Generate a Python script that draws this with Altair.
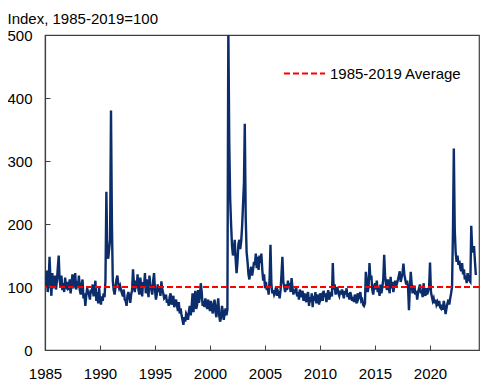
import altair as alt
import pandas as pd

years = list(range(1985, 2025))

gpr_by_year = {
    1985: [118, 100, 126, 92, 108, 148, 112, 86, 122, 98, 104, 118],
    1986: [96, 110, 130, 150, 112, 100, 118, 95, 106, 92, 115, 100],
    1987: [98, 108, 95, 112, 90, 104, 120, 98, 110, 122, 96, 104],
    1988: [100, 118, 95, 88, 105, 112, 82, 90, 70, 86, 98, 92],
    1989: [88, 80, 96, 90, 104, 85, 95, 110, 78, 92, 74, 100],
    1990: [80, 72, 85, 78, 90, 84, 110, 251, 150, 145, 160, 175],
    1991: [380, 200, 110, 95, 88, 100, 112, 118, 105, 98, 102, 95],
    1992: [90, 85, 96, 80, 78, 70, 86, 92, 84, 75, 88, 95],
    1993: [128, 105, 92, 110, 98, 120, 95, 88, 115, 100, 85, 108],
    1994: [100, 122, 90, 112, 95, 84, 118, 102, 96, 88, 110, 122],
    1995: [95, 80, 88, 104, 92, 100, 86, 109, 96, 90, 82, 84],
    1996: [88, 75, 80, 70, 84, 90, 72, 78, 86, 68, 75, 80],
    1997: [70, 62, 76, 58, 66, 55, 48, 40, 52, 45, 58, 55],
    1998: [48, 62, 70, 55, 68, 90, 60, 80, 94, 65, 72, 95],
    1999: [75, 85, 106, 92, 70, 78, 68, 82, 72, 65, 80, 70],
    2000: [62, 78, 68, 58, 72, 80, 60, 52, 70, 82, 55, 45],
    2001: [52, 70, 62, 48, 58, 66, 55, 64, 512, 330, 240, 200],
    2002: [165, 150, 158, 175, 145, 122, 140, 168, 175, 160, 172, 195],
    2003: [230, 265, 359, 210, 155, 140, 120, 112, 125, 132, 118, 128],
    2004: [140, 135, 153, 130, 148, 127, 150, 138, 153, 128, 110, 120],
    2005: [98, 108, 95, 100, 88, 112, 167, 104, 90, 95, 88, 92],
    2006: [100, 86, 94, 90, 82, 95, 120, 148, 108, 100, 92, 104],
    2007: [95, 110, 98, 106, 92, 114, 100, 88, 96, 90, 100, 85],
    2008: [92, 80, 96, 88, 84, 94, 78, 90, 82, 76, 88, 92],
    2009: [70, 84, 76, 90, 68, 86, 78, 92, 74, 88, 80, 72],
    2010: [90, 82, 86, 78, 94, 84, 90, 76, 88, 95, 80, 86],
    2011: [92, 85, 138, 96, 104, 88, 95, 100, 90, 86, 94, 88],
    2012: [96, 90, 82, 94, 88, 98, 84, 90, 80, 92, 86, 78],
    2013: [84, 76, 88, 80, 74, 90, 82, 86, 92, 78, 80, 72],
    2014: [70, 74, 124, 110, 92, 100, 138, 112, 118, 96, 88, 100],
    2015: [106, 96, 110, 92, 98, 86, 104, 90, 100, 112, 151, 118],
    2016: [104, 95, 112, 100, 90, 116, 98, 108, 92, 102, 110, 100],
    2017: [106, 112, 118, 125, 108, 115, 122, 137, 120, 112, 104, 110],
    2018: [100, 63, 96, 124, 105, 90, 98, 102, 88, 94, 80, 92],
    2019: [98, 104, 90, 95, 84, 106, 90, 86, 98, 88, 94, 100],
    2020: [139, 92, 85, 78, 82, 74, 80, 72, 76, 70, 78, 68],
    2021: [66, 72, 64, 78, 70, 57, 66, 74, 80, 72, 82, 90],
    2022: [100, 190, 320, 190, 155, 140, 150, 135, 142, 130, 125, 138],
    2023: [120, 128, 112, 118, 106, 122, 115, 110, 108, 197, 160, 155],
    2024: [165, 140, 119],
}

average_label = "1985-2019 Average"
average_value = 100
y_title = "Index, 1985-2019=100"
y_ticks = [0, 100, 200, 300, 400, 500]
x_tick_years = [1985, 1990, 1995, 2000, 2005, 2010, 2015, 2020]

rows = []
for y in years:
    for m, v in enumerate(gpr_by_year[y], start=1):
        rows.append({"date": f"{y}-{m:02d}-01", "gpr": v})
df = pd.DataFrame(rows)
avg_df = pd.DataFrame({"series": [average_label], "value": [average_value]})

FONT = "Liberation Sans"
x_scale = alt.Scale(domain=[alt.DateTime(year=1985, month=1, date=1),
                            alt.DateTime(year=2024, month=6, date=14)])
y_scale = alt.Scale(domain=[0, 500], nice=False)

line = alt.Chart(df).mark_line(color="#0b2d6b", strokeWidth=2.4, clip=True).encode(
    x=alt.X("date:T", scale=x_scale, title=None,
            axis=alt.Axis(values=[alt.DateTime(year=y, month=1, date=1) for y in x_tick_years],
                          format="%Y", labelPadding=21, labelFlush=False,
                          tickSize={"expr": "-5"}, grid=False)),
    y=alt.Y("gpr:Q", scale=y_scale,
            axis=alt.Axis(values=y_ticks, labelPadding=18, tickSize={"expr": "-5"},
                          grid=False, title=y_title, titleAngle=0, titleAlign="left",
                          titleBaseline="alphabetic", titleX=-38, titleY=-12,
                          titleFont=FONT, titleFontSize=15, titleFontWeight="normal",
                          titleColor="black")),
)

avg = alt.Chart(avg_df).mark_rule(strokeDash=[6, 3], strokeWidth=2).encode(
    y=alt.Y("value:Q", scale=y_scale),
    color=alt.Color("series:N",
                    scale=alt.Scale(domain=[average_label], range=["#ff0000"]),
                    legend=alt.Legend(title=None, orient="none", legendX=238, legendY=17,
                                      symbolType="stroke", symbolSize=1681,
                                      symbolStrokeWidth=2, symbolDash=[6, 3],
                                      labelFontSize=15, labelFont=FONT, labelColor="black",
                                      labelOffset=4, padding=0)),
)

chart = alt.layer(line, avg).properties(
    width=434, height=315,
    autosize=alt.AutoSizeParams(type="none"),
    padding={"left": 37, "top": 27, "right": 8, "bottom": 35},
).configure_axis(
    labelFont=FONT, labelFontSize=15, labelColor="black",
    domainColor="#404040", tickColor="#404040", domainWidth=1.2,
).configure_view(stroke="#404040", strokeWidth=1.2)

chart.save("out.html", embed_options={"renderer": "svg", "actions": False})
